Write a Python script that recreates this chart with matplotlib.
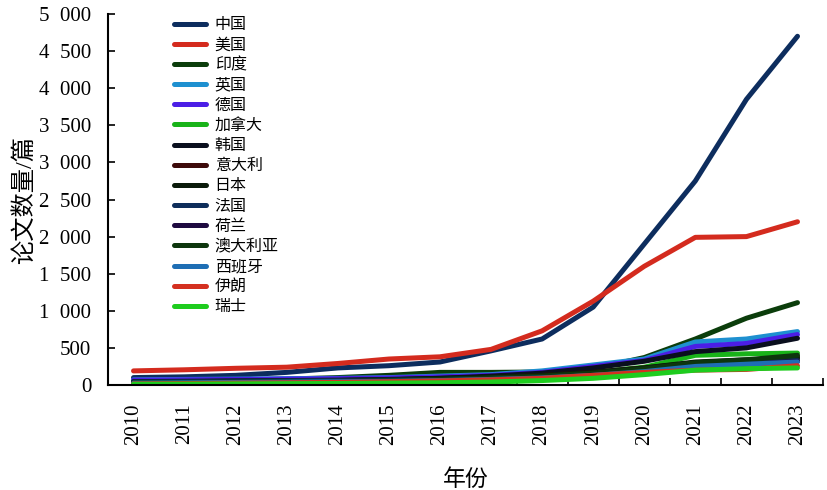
import matplotlib
matplotlib.use("Agg")
import matplotlib.pyplot as plt
from matplotlib.ticker import FixedLocator, FuncFormatter

plt.rcParams["font.family"] = ["Liberation Serif", "Noto Sans CJK SC", "DejaVu Sans"]
plt.rcParams["xtick.direction"] = "in"
plt.rcParams["ytick.direction"] = "in"

years = list(range(2010, 2024))

countries = ["中国", "美国", "印度", "英国", "德国", "加拿大", "韩国", "意大利",
             "日本", "法国", "荷兰", "澳大利亚", "西班牙", "伊朗", "瑞士"]

china = [100, 110, 130, 170, 230, 260, 310, 460, 620, 1050, 1900, 2750, 3850, 4700]
usa = [190, 205, 225, 240, 290, 350, 380, 480, 730, 1130, 1600, 1990, 2000, 2200]
india = [50, 55, 65, 80, 100, 130, 170, 170, 175, 220, 370, 620, 900, 1110]
uk = [70, 75, 80, 85, 90, 100, 120, 140, 190, 270, 350, 580, 620, 720]
germany = [65, 70, 75, 80, 85, 95, 110, 130, 170, 250, 330, 520, 560, 680]
canada = [25, 30, 35, 40, 45, 55, 70, 90, 120, 170, 240, 400, 420, 430]
korea = [40, 45, 50, 55, 60, 70, 90, 120, 160, 230, 320, 450, 500, 630]
italy = [35, 40, 45, 50, 55, 65, 80, 100, 130, 170, 230, 300, 330, 380]
japan = [45, 50, 55, 60, 65, 75, 90, 105, 130, 170, 230, 310, 340, 360]
france = [40, 45, 50, 55, 60, 65, 75, 90, 110, 150, 200, 280, 310, 330]
netherlands = [20, 25, 30, 35, 40, 45, 55, 70, 90, 120, 170, 240, 280, 320]
australia = [30, 35, 40, 45, 50, 60, 75, 95, 120, 160, 220, 300, 340, 400]
spain = [25, 30, 35, 40, 45, 50, 60, 75, 95, 130, 180, 250, 280, 310]
iran = [15, 20, 25, 30, 35, 45, 55, 70, 90, 130, 170, 200, 210, 260]
switzerland = [10, 12, 15, 18, 20, 25, 30, 40, 60, 90, 140, 200, 220, 230]

series = [china, usa, india, uk, germany, canada, korea, italy,
          japan, france, netherlands, australia, spain, iran, switzerland]

colors = ["#0d2d5e", "#d42b1e", "#0b3d0b", "#1e90d0", "#4b1ee6", "#19b319",
          "#0a0f1e", "#3d0a0a", "#0a1a0a", "#0e2d5a", "#1e0a40", "#0d360d",
          "#1e6eb4", "#d43020", "#1ecc1e"]

fig = plt.figure(figsize=(8.28, 4.9), dpi=100)
ax = fig.add_axes([0.1304, 0.2143, 0.8636, 0.7571])

x = list(range(len(years)))
for name, vals, c in zip(countries, series, colors):
    ax.plot(x, vals, color=c, linewidth=3.6, label=name, solid_capstyle="round")

ax.set_xlim(-0.5, len(years) - 0.5)
ax.set_ylim(0, 5000)
ax.set_xticks(x)
ax.set_xticklabels([str(y) for y in years], rotation=90, fontsize=15)
ax.xaxis.set_minor_locator(FixedLocator([i + 0.5 for i in range(-1, len(years))]))
ax.tick_params(axis="x", which="major", length=0, pad=13)
ax.tick_params(axis="x", which="minor", direction="in", length=5, width=1.2)
ax.set_yticks(range(0, 5001, 500))
ax.yaxis.set_major_formatter(FuncFormatter(lambda v, p: f"{int(v):,}".replace(",", "  ")))
ax.tick_params(axis="y", direction="in", length=5, width=1.2, labelsize=15, pad=12)

ax.spines["top"].set_visible(False)
ax.spines["right"].set_visible(False)
ax.spines["left"].set_linewidth(1.5)
ax.spines["bottom"].set_linewidth(1.5)

ax.set_xlabel("年份", fontsize=16.5, labelpad=18)
ax.set_ylabel("论文数量/篇", fontsize=17.5, labelpad=2)

ax.legend(loc="upper left", bbox_to_anchor=(0.072, 1.03), frameon=False,
          fontsize=11.5, handlelength=2.0, handletextpad=0.55, labelspacing=0.26)

fig.savefig("out.png", dpi=100)
